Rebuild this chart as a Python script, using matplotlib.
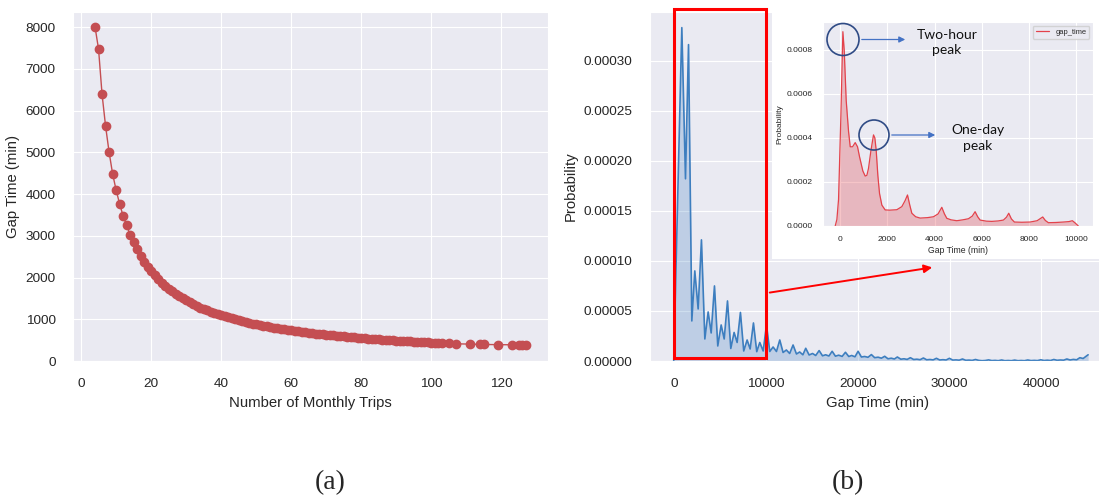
import matplotlib
matplotlib.use('Agg')

import matplotlib.pyplot as plt
import numpy as np
import seaborn as sns
from matplotlib.patches import Rectangle, Ellipse, FancyArrowPatch

sns.set_style('darkgrid')
plt.rcParams['font.family'] = ['Liberation Sans', 'DejaVu Sans']

W, H = 1099, 498

# (a) mean gap time vs number of monthly trips
trips = list(range(4, 104)) + [105, 107, 111, 114, 115, 119, 123, 125, 126, 127]
gap_mean = [
    8000, 7470, 6390, 5630, 5010, 4490, 4100, 3770, 3480, 3250,
    3030, 2840, 2680, 2520, 2380, 2260, 2150, 2050, 1960, 1880,
    1805, 1735, 1670, 1610, 1555, 1500, 1450, 1405, 1360, 1320,
    1280, 1245, 1210, 1180, 1150, 1125, 1100, 1073, 1048, 1023,
    1000, 978, 957, 936, 917, 898, 880, 863, 846, 830,
    815, 800, 786, 772, 759, 746, 733, 721, 710, 698,
    688, 677, 667, 657, 647, 638, 629, 620, 611, 603,
    595, 587, 579, 571, 564, 557, 550, 543, 537, 530,
    524, 518, 512, 506, 500, 494, 489, 484, 478, 473,
    468, 463, 458, 454, 449, 444, 440, 436, 432, 428,
    420, 412, 405, 398, 396, 392, 388, 385, 384, 382,
]

# (b) density of gap time (blue), values x 1e-5
gap_grid = [
    -80, 800, 1200, 1530, 1890, 2215, 2580, 2940, 3310, 3670,
    4000, 4360, 4720, 5090, 5420, 5780, 6140, 6500, 6830, 7190,
    7550, 7920, 8250, 8610, 8970, 9300, 9670, 10030, 10390, 10750,
    11120, 11480, 11840, 12200, 12560, 12930, 13300, 13650, 14000, 14310,
    14680, 15050, 15400, 15770, 16140, 16480, 16840, 17190, 17550, 17900,
    18280, 18640, 19000, 19320, 19680, 20020, 20380, 20740, 21100, 21470,
    21830, 22200, 22560, 22920, 23280, 23630, 23980, 24300, 24680, 25020,
    25370, 25720, 26080, 26430, 26780, 27140, 27500, 27850, 28200, 28560,
    28920, 29270, 29620, 29980, 30340, 30690, 31040, 31400, 31760, 32110,
    32460, 32820, 33180, 33540, 33890, 34250, 34600, 34960, 35310, 35670,
    36020, 36380, 36740, 37090, 37450, 37800, 38160, 38520, 38870, 39230,
    39580, 39940, 40290, 40650, 41000, 41360, 41720, 42070, 42430, 42780,
    43140, 43490, 43850, 44200, 44560, 44920, 45100,
]
gap_density = np.array([
    0.0, 33.3, 18.2, 31.6, 4.0, 9.0, 5.2, 12.1, 2.2, 4.9,
    2.8, 7.5, 1.5, 3.6, 2.2, 6.0, 1.25, 2.85, 1.85, 4.85,
    1.0, 2.1, 1.2, 3.8, 0.93, 1.85, 1.0, 3.6, 0.95, 1.4,
    0.95, 2.1, 0.85, 1.1, 0.75, 1.6, 0.7, 0.9, 0.62, 1.27,
    0.6, 0.75, 0.55, 1.04, 0.52, 0.62, 0.5, 0.97, 0.48, 0.58,
    0.46, 0.87, 0.45, 0.55, 0.42, 0.97, 0.4, 0.45, 0.37, 0.64,
    0.33, 0.38, 0.28, 0.47, 0.22, 0.28, 0.2, 0.4, 0.18, 0.22,
    0.16, 0.33, 0.15, 0.18, 0.13, 0.3, 0.12, 0.15, 0.11, 0.27,
    0.1, 0.13, 0.1, 0.27, 0.09, 0.11, 0.08, 0.2, 0.07, 0.09,
    0.06, 0.15, 0.06, 0.03, 0.05, 0.11, 0.04, 0.06, 0.03, 0.1,
    0.03, 0.05, 0.03, 0.09, 0.03, 0.05, 0.03, 0.1, 0.04, 0.06,
    0.04, 0.12, 0.05, 0.08, 0.05, 0.15, 0.07, 0.1, 0.08, 0.2,
    0.1, 0.16, 0.12, 0.33, 0.25, 0.5, 0.62,
]) * 1e-5

# inset: density over 0-10000 min (red), values x 1e-4
zoom_grid = [
    -212, -141, -71, 28, 113, 169, 254, 353, 424, 523,
    636, 734, 819, 960, 1059, 1130, 1200, 1299, 1412, 1469,
    1525, 1596, 1667, 1766, 1907, 2100, 2401, 2613, 2750, 2853,
    2950, 3037, 3200, 3390, 3700, 3955, 4150, 4308, 4420, 4520,
    4700, 4944, 5200, 5438, 5600, 5720, 5830, 5932, 6200, 6427,
    6700, 6921, 7050, 7147, 7260, 7387, 7700, 8051, 8350, 8588,
    8700, 8828, 9150, 9463, 9700, 9845, 9950, 10099,
]
zoom_density = np.array([
    0.0, 0.3, 1.2, 5.0, 8.83, 8.0, 5.7, 4.3, 3.6, 3.6,
    3.79, 3.6, 3.15, 2.5, 2.27, 2.3, 2.62, 3.4, 4.14, 4.0,
    3.45, 2.3, 1.48, 0.95, 0.73, 0.72, 0.74, 0.88, 1.15, 1.41,
    0.95, 0.58, 0.42, 0.36, 0.38, 0.42, 0.55, 0.85, 0.55, 0.35,
    0.28, 0.24, 0.28, 0.33, 0.45, 0.65, 0.42, 0.27, 0.22, 0.21,
    0.23, 0.27, 0.4, 0.58, 0.32, 0.18, 0.17, 0.18, 0.24, 0.41,
    0.25, 0.15, 0.16, 0.18, 0.2, 0.24, 0.15, 0.0,
]) * 1e-4


def frect(l, t, r, b):
    """pixel box -> figure fraction [left, bottom, width, height]"""
    return [l / W, 1 - b / H, (r - l) / W, (b - t) / H]


def fpos(x, y):
    return x / W, 1 - y / H


fig = plt.figure(figsize=(W / 100, H / 100), dpi=100)

# ---------- (a) ----------
ax_a = fig.add_axes(frect(73, 12, 548, 361))
ax_a.plot(trips, gap_mean, 'o-', color='#C44E52', ms=6, lw=1)
ax_a.set_xlim(-2.3, 133.4)
ax_a.set_ylim(0, 8360)
ax_a.set_xticks(range(0, 121, 20))
ax_a.set_yticks(range(0, 8001, 1000))
ax_a.tick_params(labelsize=9.7, pad=9)
ax_a.set_xlabel('Number of Monthly Trips', fontsize=10.7)
ax_a.set_ylabel('Gap Time (min)', fontsize=10.7)

# ---------- (b) ----------
blue = '#3d7ebf'
ax_b = fig.add_axes(frect(650, 12, 1106, 361))
ax_b.plot(gap_grid, gap_density, color=blue, lw=1.2)
ax_b.fill_between(gap_grid, gap_density, color=blue, alpha=0.25, lw=0)
ax_b.set_xlim(-2670, 47050)
ax_b.set_ylim(0, 0.0003486)
ax_b.set_xticks(range(0, 40001, 10000))
ax_b.set_yticks(np.arange(0, 0.00031, 0.00005))
ax_b.yaxis.set_major_formatter(plt.FormatStrFormatter('%.5f'))
ax_b.tick_params(labelsize=9.7, pad=9)
ax_b.set_xlabel('Gap Time (min)', fontsize=10.7)
ax_b.set_ylabel('Probability', fontsize=10.7)

# red box marking the zoomed range
ax_b.add_patch(Rectangle((0, 0.009), 10000, 1.0, transform=ax_b.get_xaxis_transform(),
                         fill=False, ec='#ff0000', lw=2.2, clip_on=False, zorder=5))

# white panel behind the inset
fig.add_artist(Rectangle(fpos(772, 259), (W - 772) / W, 259 / H,
                         transform=fig.transFigure, fc='white', ec='none', zorder=1))

fig.add_artist(FancyArrowPatch(fpos(767, 293), fpos(935, 267), transform=fig.transFigure,
                               arrowstyle='-|>', mutation_scale=12, color='#ff0000',
                               lw=1.4, zorder=2))

# ---------- inset ----------
red = '#e3424b'
ax_in = fig.add_axes(frect(823, 22, 1093, 226), zorder=3)
ax_in.plot(zoom_grid, zoom_density, color=red, lw=0.9, label='gap_time')
ax_in.fill_between(zoom_grid, zoom_density, color=red, alpha=0.3, lw=0)
ax_in.set_xlim(-730, 10720)
ax_in.set_ylim(0, 0.000927)
ax_in.set_xticks(range(0, 10001, 2000))
ax_in.set_yticks(np.arange(0, 0.00081, 0.0002))
ax_in.yaxis.set_major_formatter(plt.FormatStrFormatter('%.4f'))
ax_in.tick_params(labelsize=6, pad=4)
ax_in.set_xlabel('Gap Time (min)', fontsize=6.2, labelpad=2)
ax_in.set_ylabel('Probability', fontsize=6, labelpad=2)
ax_in.legend(loc='upper right', fontsize=5.4, handlelength=1.8)

# peak annotations
circle_c = '#2f4b85'
arrow_c = '#4472c4'
for cx, cy, r, x_end, txt, tx in [(843, 39.5, 16, 908, 'Two-hour\npeak', 947),
                                  (874, 135, 15, 938, 'One-day\npeak', 978)]:
    fig.add_artist(Ellipse(fpos(cx, cy), 2 * r / W, 2 * r / H, transform=fig.transFigure,
                           fill=False, ec=circle_c, lw=1.2, zorder=4))
    fig.add_artist(FancyArrowPatch(fpos(cx + r, cy), fpos(x_end, cy), transform=fig.transFigure,
                                   arrowstyle='-|>', mutation_scale=9, color=arrow_c,
                                   lw=0.9, zorder=4))
    fig.text(*fpos(tx, cy + 3), txt, ha='center', va='center', fontsize=10,
             family='Lato', color='#111111', linespacing=1.35, zorder=4)

fig.text(*fpos(330, 483), '(a)', ha='center', va='center', fontsize=20, family='Liberation Serif')
fig.text(*fpos(848, 483), '(b)', ha='center', va='center', fontsize=20, family='Liberation Serif')

fig.savefig('out.png', dpi=100)
